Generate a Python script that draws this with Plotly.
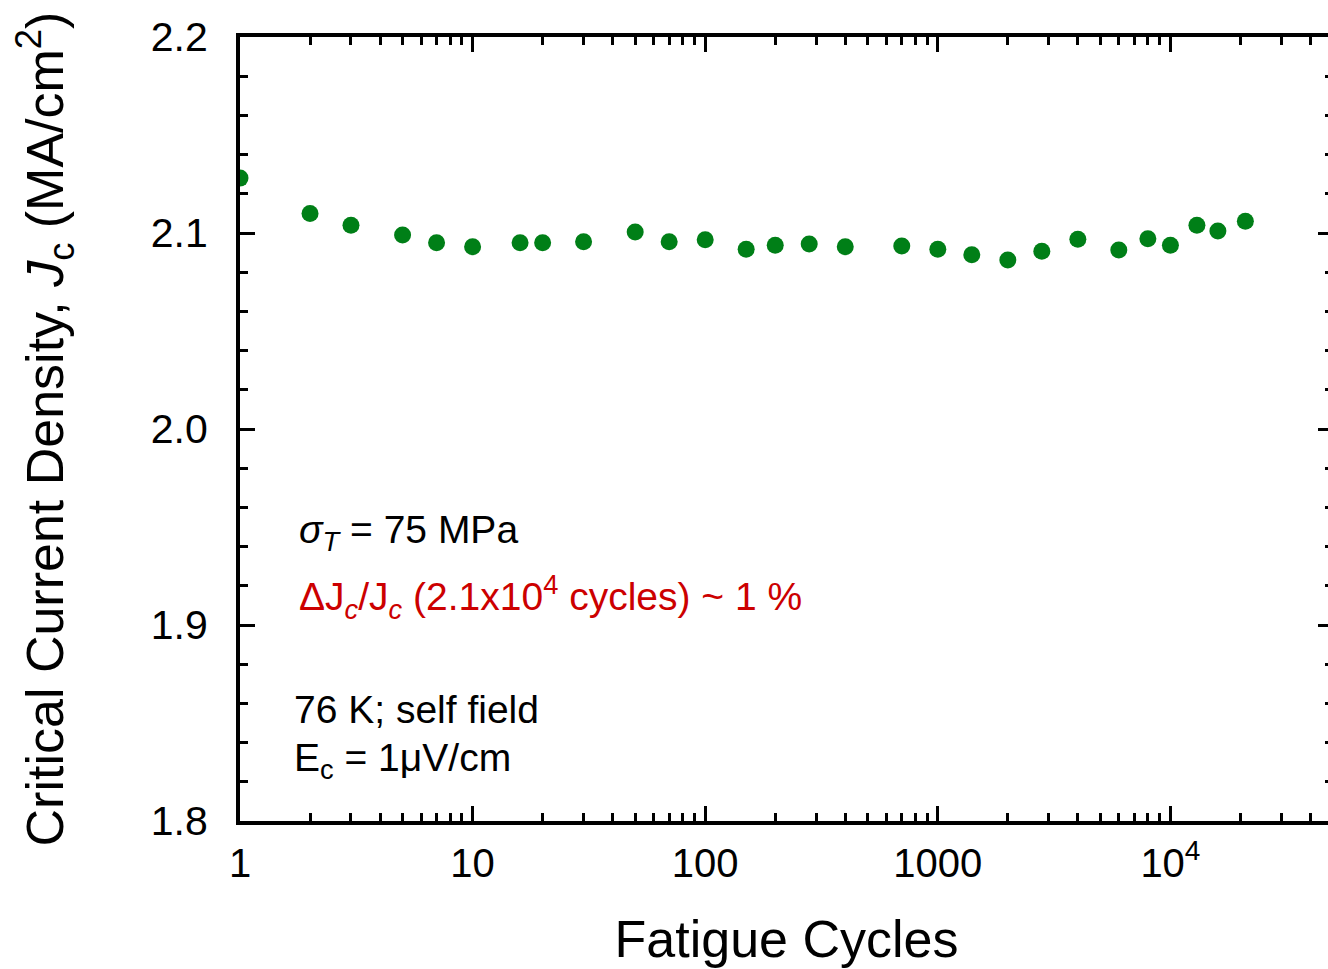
import plotly.graph_objects as go

cycles = [1, 2, 3, 5, 7, 10, 16, 20, 30, 50, 70, 100, 150, 200, 280, 400, 700,
          1000, 1400, 2000, 2800, 4000, 6000, 8000, 10000, 13000, 16000, 21000]
jc = [2.128, 2.110, 2.104, 2.099, 2.095, 2.093, 2.095, 2.095, 2.0955, 2.1005, 2.0955,
      2.0965, 2.0917, 2.0937, 2.0944, 2.093, 2.0934, 2.0917, 2.0889, 2.0862, 2.0907,
      2.0968, 2.0913, 2.0971, 2.0937, 2.104, 2.101, 2.106]

x_tickvals = [1, 10, 100, 1000, 10000]
x_ticktext = ["1", "10", "100", "1000", "10<sup>4</sup>"]
y_tickvals = [1.8, 1.9, 2.0, 2.1, 2.2]
y_ticktext = ["1.8", "1.9", "2.0", "2.1", "2.2"]

FONT = "Liberation Sans, Arial, sans-serif"

fig = go.Figure()
fig.add_trace(go.Scatter(
    x=cycles, y=jc, mode="markers",
    marker=dict(size=17, color="#007F17", line=dict(width=0)),
    showlegend=False,
))

axis_common = dict(
    showline=True, linewidth=4, linecolor="black", mirror="ticks",
    ticks="inside", ticklen=15, tickwidth=3, tickcolor="black",
    showgrid=False, zeroline=False,
)

fig.update_xaxes(
    type="log", range=[0, 4.699],
    tickmode="array", tickvals=x_tickvals, ticktext=x_ticktext,
    tickfont=dict(family=FONT, size=40, color="black"),
    ticklabelstandoff=4,
    minor=dict(ticks="inside", ticklen=8, tickwidth=3, tickcolor="black", dtick="D1", showgrid=False),
    title=dict(text="Fatigue Cycles", font=dict(family=FONT, size=52, color="black"), standoff=38),
    **axis_common,
)
fig.update_yaxes(
    range=[1.8, 2.2],
    tickmode="array", tickvals=y_tickvals, ticktext=y_ticktext,
    tickfont=dict(family=FONT, size=41, color="black"),
    ticklabelstandoff=20,
    minor=dict(ticks="inside", ticklen=8, tickwidth=3, tickcolor="black", dtick=0.02, showgrid=False),
    title=dict(text="Critical Current Density, <i>J</i><sub>c</sub> (MA/cm<sup>2</sup>)",
               font=dict(family=FONT, size=52, color="black"), standoff=72),
    **axis_common,
)

ann_font = dict(family=FONT, size=39, color="black")
red_font = dict(family=FONT, size=39, color="#CC0000")
annotations = [
    ("<i>σ</i><sub><i>T</i></sub> = 75 MPa", 0.0524, 0.3686, ann_font),
    ("ΔJ<sub><i>c</i></sub>/J<sub><i>c</i></sub> (2.1x10<sup>4</sup> cycles) ~ 1 %", 0.0524, 0.2857, red_font),
    ("76 K; self field", 0.048, 0.1416, ann_font),
    ("E<sub>c</sub> = 1μV/cm", 0.048, 0.0778, ann_font),
]
plot_w = 1337 - 240
for text, ax_, ay_, f in annotations:
    fig.add_annotation(text=text, xref="paper", yref="paper", x=ax_ * 1088 / plot_w, y=ay_,
                       xanchor="left", yanchor="middle", showarrow=False, font=f)

fig.update_layout(
    width=1337, height=969,
    margin=dict(l=240, r=0, t=37, b=148),
    plot_bgcolor="white", paper_bgcolor="white",
)

fig.write_html(
    "out.html",
    config={"displayModeBar": False},
    post_script="document.body.style.margin='0';document.body.style.overflow='hidden';"
                "document.documentElement.style.overflow='hidden';",
)
